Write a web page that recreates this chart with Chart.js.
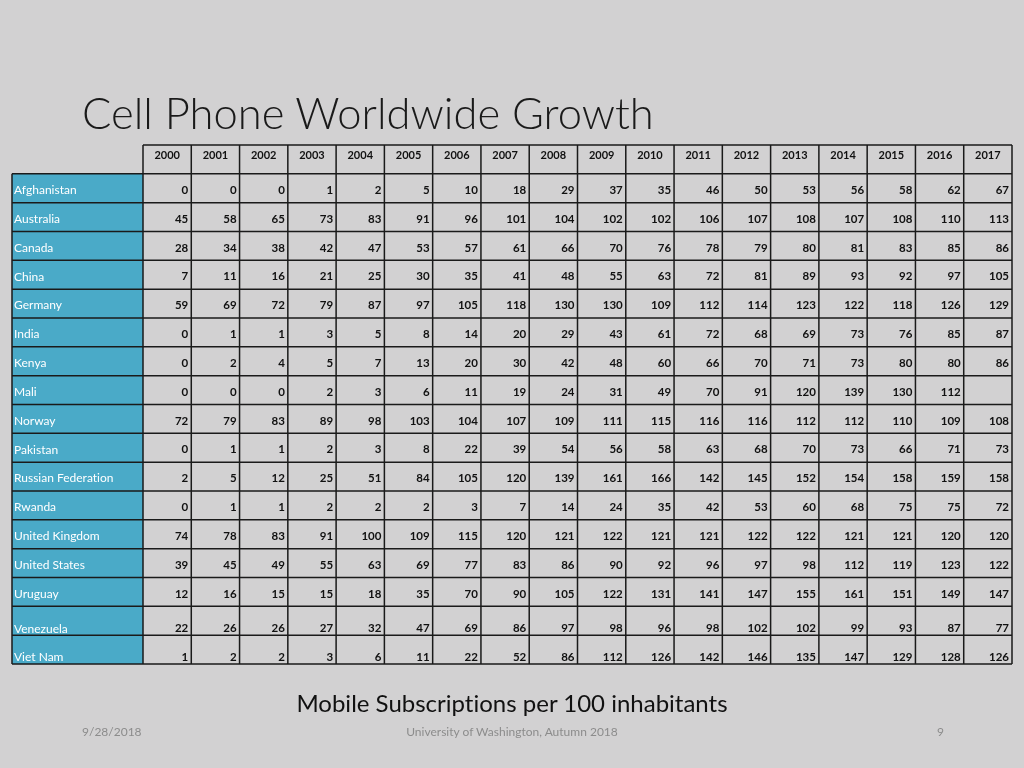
<!DOCTYPE html>
<html>
<head>
<meta charset="utf-8">
<script src="https://cdn.jsdelivr.net/npm/chart.js@4.4.0/dist/chart.umd.min.js"></script>
<style>
  html, body { margin: 0; padding: 0; background: #d2d1d2; }
  #slide { position: relative; width: 1024px; height: 768px; overflow: hidden; font-family: Lato, 'Open Sans', sans-serif; font-variant-ligatures: none; }
  #wrap { position: absolute; left: 0; top: 0; width: 1024px; height: 768px; }
  .txt { position: absolute; white-space: nowrap; line-height: 1; }
  #title { left: 82px; top: 91px; font-size: 43.5px; font-weight: 300; color: #1a1a1a; }
  #subtitle { left: 0; width: 1024px; text-align: center; top: 691px; font-size: 24px; color: #111; }
  .foot { top: 726px; font-size: 12px; color: #8c8c8c; }
</style>
</head>
<body>
<div id="slide">
  <div id="wrap"><canvas id="tableChart"></canvas></div>
  <div id="title" class="txt">Cell Phone Worldwide Growth</div>
  <div id="subtitle" class="txt">Mobile Subscriptions per 100 inhabitants</div>
  <div class="txt foot" style="left:82px">9/28/2018</div>
  <div class="txt foot" style="left:0;width:1024px;text-align:center">University of Washington, Autumn 2018</div>
  <div class="txt foot" style="left:937px">9</div>
</div>
<script>
// ── Data ─────────────────────────────────────────────────────────────────────
const years = ['2000', '2001', '2002', '2003', '2004', '2005', '2006', '2007', '2008',
               '2009', '2010', '2011', '2012', '2013', '2014', '2015', '2016', '2017'];

const countries = ['Afghanistan', 'Australia', 'Canada', 'China', 'Germany', 'India', 'Kenya',
                   'Mali', 'Norway', 'Pakistan', 'Russian Federation', 'Rwanda', 'United Kingdom',
                   'United States', 'Uruguay', 'Venezuela', 'Viet Nam'];

const afghanistan = [0, 0, 0, 1, 2, 5, 10, 18, 29, 37, 35, 46, 50, 53, 56, 58, 62, 67];
const australia   = [45, 58, 65, 73, 83, 91, 96, 101, 104, 102, 102, 106, 107, 108, 107, 108, 110, 113];
const canada      = [28, 34, 38, 42, 47, 53, 57, 61, 66, 70, 76, 78, 79, 80, 81, 83, 85, 86];
const china       = [7, 11, 16, 21, 25, 30, 35, 41, 48, 55, 63, 72, 81, 89, 93, 92, 97, 105];
const germany     = [59, 69, 72, 79, 87, 97, 105, 118, 130, 130, 109, 112, 114, 123, 122, 118, 126, 129];
const india       = [0, 1, 1, 3, 5, 8, 14, 20, 29, 43, 61, 72, 68, 69, 73, 76, 85, 87];
const kenya       = [0, 2, 4, 5, 7, 13, 20, 30, 42, 48, 60, 66, 70, 71, 73, 80, 80, 86];
const mali        = [0, 0, 0, 2, 3, 6, 11, 19, 24, 31, 49, 70, 91, 120, 139, 130, 112, null];
const norway      = [72, 79, 83, 89, 98, 103, 104, 107, 109, 111, 115, 116, 116, 112, 112, 110, 109, 108];
const pakistan    = [0, 1, 1, 2, 3, 8, 22, 39, 54, 56, 58, 63, 68, 70, 73, 66, 71, 73];
const russia      = [2, 5, 12, 25, 51, 84, 105, 120, 139, 161, 166, 142, 145, 152, 154, 158, 159, 158];
const rwanda      = [0, 1, 1, 2, 2, 2, 3, 7, 14, 24, 35, 42, 53, 60, 68, 75, 75, 72];
const uk          = [74, 78, 83, 91, 100, 109, 115, 120, 121, 122, 121, 121, 122, 122, 121, 121, 120, 120];
const us          = [39, 45, 49, 55, 63, 69, 77, 83, 86, 90, 92, 96, 97, 98, 112, 119, 123, 122];
const uruguay     = [12, 16, 15, 15, 18, 35, 70, 90, 105, 122, 131, 141, 147, 155, 161, 151, 149, 147];
const venezuela   = [22, 26, 26, 27, 32, 47, 69, 86, 97, 98, 96, 98, 102, 102, 99, 93, 87, 77];
const vietnam     = [1, 2, 2, 3, 6, 11, 22, 52, 86, 112, 126, 142, 146, 135, 147, 129, 128, 126];

const rows = [afghanistan, australia, canada, china, germany, india, kenya, mali, norway,
              pakistan, russia, rwanda, uk, us, uruguay, venezuela, vietnam];

// ── Build cell points: x = column, y = row (0 = header) ──────────────────────
const cellPoints = [];
rows.forEach((vals, r) => {
    vals.forEach((v, c) => {
        cellPoints.push({ x: c + 0.5, y: r + 1.5, v: v });
    });
});

const BLUE = '#4aaac8';
const LABEL_LEFT = 12;
const FONT = 'Lato, "Open Sans", sans-serif';

// last two rows sit lower in their cells
const rowShift = r => (r >= 15 ? 8 : 2);

// ── Table drawing plugin (uses chart scales for every cell) ──────────────────
const tablePlugin = {
    id: 'tableGrid',
    afterDatasetsDraw(chart) {
        const { ctx, scales: { x, y } } = chart;
        const nCols = years.length;
        const nRows = countries.length + 1;
        const xL = x.getPixelForValue(0), xR = x.getPixelForValue(nCols);
        const yTop = y.getPixelForValue(0), yHead = y.getPixelForValue(1), yBot = y.getPixelForValue(nRows);

        ctx.save();
        // country column
        ctx.fillStyle = BLUE;
        ctx.fillRect(LABEL_LEFT, yHead, xL - LABEL_LEFT, yBot - yHead);

        // grid lines
        ctx.strokeStyle = '#1a1a1a';
        ctx.lineWidth = 1.5;
        ctx.beginPath();
        for (let c = 0; c <= nCols; c++) {
            const px = x.getPixelForValue(c);
            ctx.moveTo(px, yTop); ctx.lineTo(px, yBot);
        }
        for (let r = 0; r <= nRows; r++) {
            const py = y.getPixelForValue(r);
            ctx.moveTo(r === 0 ? xL : LABEL_LEFT, py); ctx.lineTo(xR, py);
        }
        ctx.moveTo(LABEL_LEFT, yHead); ctx.lineTo(LABEL_LEFT, yBot);
        ctx.stroke();

        // header years
        ctx.fillStyle = '#111';
        ctx.font = 'bold 11px ' + FONT;
        ctx.textAlign = 'center';
        ctx.textBaseline = 'middle';
        years.forEach((yr, c) => {
            ctx.fillText(yr, x.getPixelForValue(c + 0.5), y.getPixelForValue(0.5) - 4);
        });

        // country labels
        ctx.fillStyle = '#ffffff';
        ctx.font = '12px ' + FONT;
        ctx.textAlign = 'left';
        countries.forEach((name, r) => {
            ctx.fillText(name, LABEL_LEFT + 2, y.getPixelForValue(r + 1.5) + rowShift(r));
        });

        // values, placed at the dataset's own point elements
        const meta = chart.getDatasetMeta(0);
        ctx.fillStyle = '#111';
        ctx.font = 'bold 11.5px ' + FONT;
        ctx.textAlign = 'right';
        meta.data.forEach((pt, i) => {
            const d = cellPoints[i];
            if (d.v === null) return;
            const right = x.getPixelForValue(d.x + 0.5) - 3;
            ctx.fillText(String(d.v), right, pt.y + rowShift(d.y - 1.5));
        });
        ctx.restore();
    }
};

new Chart(document.getElementById('tableChart').getContext('2d'), {
    type: 'scatter',
    data: {
        datasets: [{
            data: cellPoints,
            pointRadius: 0,
            pointHoverRadius: 0
        }]
    },
    options: {
        responsive: true,
        maintainAspectRatio: false,
        animation: false,
        events: [],
        layout: { padding: { left: 143, right: 12, top: 145, bottom: 104 } },
        scales: {
            x: { type: 'linear', min: 0, max: years.length, display: false },
            y: { type: 'linear', min: 0, max: countries.length + 1, reverse: true, display: false }
        },
        plugins: { legend: { display: false }, tooltip: { enabled: false } }
    },
    plugins: [tablePlugin]
});
</script>
</body>
</html>
